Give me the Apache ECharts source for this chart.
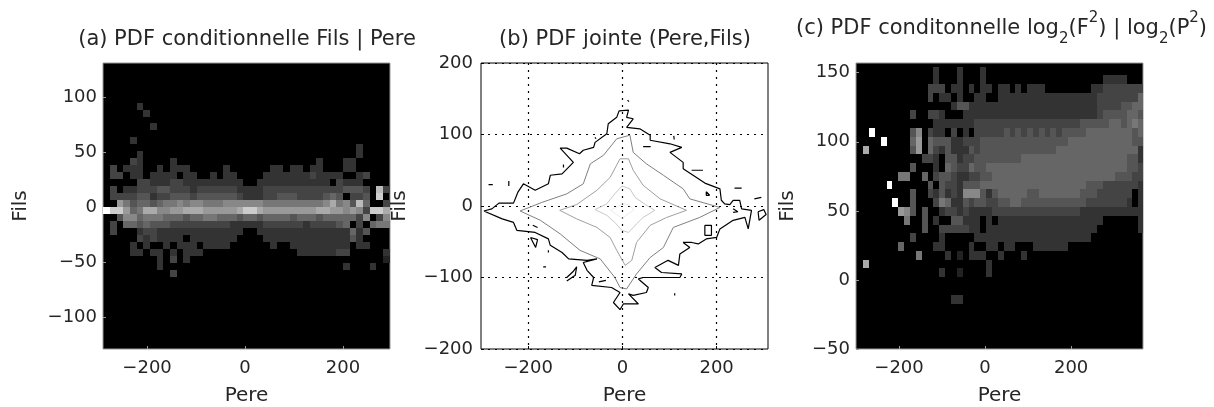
<!DOCTYPE html>
<html><head><meta charset="utf-8">
<style>html,body{margin:0;background:#fff}#c{width:1214px;height:407px;filter:blur(0.45px)}</style>
<script src="https://cdn.jsdelivr.net/npm/echarts@6/dist/echarts.min.js"></script>
</head><body><div id="c"></div>
<script>
// Grey levels 0..f per bin, top row first.
const heatA = [
"000003","0000003","","00000003","","00003",
"0000000000 0000000000 0000000000 000000003",
"0000030000 0000000000 0000000000 000000003",
"0000430000 3000000000 0000000000 0030003300",
"0403330030 3330000030 0000033033 0330003300",
"0440330333 3033003033 0000333333 3433330034",
"0000044333 4433333333 3003333333 3333043330",
"0403344455 4443444444 3333444444 4444445554 0b4",
"0444455344 5554555555 4333445554 4445650445 0c0",
"0097566567 7878877788 8888777777 7778a785b6 004",
"fcc967aa88 99aaa99999 acca999999 99aa998984 cca",
"0058867776 6656677666 5665666656 6656666648 048",
"0406656555 4444444443 3333444444 3444456040 677",
"0400034433 3333333333 3003333333 3333333635",
"0000043433 3303333333 0000333333 3333333530",
"0000303003 0333033330 0000030033 3333333033",
"0000330330 3033300000 0000000003 3333344000 003",
"0000000030 4030000000 0000000000 0000000000 002",
"0000000030 0000000000 0000000000 0000003000 3",
"0000000000 4"
];
const heatC = [
"0000000000 0003000300 0300000000",
"0000000000 0003000300 0300000000 0000000000 003333",
"0000000000 0044403303 0330330303 3300000000 334444444",
"0000000000 0040330300 3300333333 3333333333 344444446",
"0000000000 0000003553 3333333333 3333333333 344445566",
"0000000004 0044300033 3333333333 3333333333 345555665",
"0000000000 0003333333 4444444444 4444444455 555665676",
"00f0000005 8043304030 4444454545 4545455556 666666656",
"0000f00006 9065553344 4555555555 5555556666 666666655",
"0a00000005 9064353335 4555555555 5555666666 666666663",
"0000000000 0443055344 5555555566 6666666666 666666553",
"0000000005 0003065446 5566666666 6666666666 666666554",
"0000000770 0604554334 4556666666 6666666666 666655544",
"00000f0000 0050544355 5666666666 6666666665 554444443",
"0000000005 0043534388 8535666665 5666666655 544444403",
"000000f005 0004763354 5544556655 5555555554 444444303",
"0000000985 0500344343 3334444444 4444444433 333333333",
"0000000070 0503005533 3030333333 3333333333 330000003",
"0000000000 0500444443 3033333333 3333333333 300000003",
"0000000004 0000300000 3333333333 3333333333",
"0000000600 0003300003 0033033000 3333330000",
"0000000000 7000030203 3300300030",
"0a00000000 0000000000 0030000000",
"0000000000 0000300200 0030000000",
"","",
"0000000000 0000003300"
];
const binsA = {x0:-282.5, dx:13.6, y0:91.9, dy:6.36};
const binsC = {x0:-290, dx:13.6, y0:151.2, dy:6.35};

// Contours of panel (b): [Pere, Fils]
const contour1 = [[-294,-7],[-277,-4],[-262,4],[-231,4],[-222,19],[-210,31],[-185,22],[-157,31],[-153,43],[-128,45],[-104,61],[-132,81],[-118,81],[-91,73],[-83,78],[-61,82],[-58,89],[-33,101],[-30,115],[-12,124],[-7,133],[13,134],[9,124],[23,122],[9,110],[37,108],[59,99],[59,92],[101,87],[126,82],[101,75],[129,61],[129,52],[175,32],[207,24],[210,8],[217,3],[228,2],[235,8],[249,8],[253,-4],[274,-6],[267,-32],[260,-16],[235,-20],[207,-32],[200,-44],[178,-46],[161,-53],[147,-51],[129,-51],[143,-58],[122,-67],[119,-83],[97,-76],[69,-86],[83,-93],[126,-95],[122,-100],[44,-100],[34,-102],[55,-114],[51,-121],[23,-125],[13,-123],[34,-137],[2,-137],[-5,-145],[-19,-135],[-5,-121],[-23,-114],[-65,-111],[-61,-100],[-75,-90],[-83,-79],[-54,-74],[-75,-76],[-114,-74],[-128,-65],[-153,-55],[-157,-46],[-185,-37],[-224,-34],[-231,-23],[-255,-18],[-294,-7]];
const contour2 = [[-217,-7],[-171,5],[-118,17],[-83,31],[-68,59],[-40,71],[-12,94],[16,99],[23,75],[51,59],[87,43],[129,24],[143,10],[207,-2],[164,-16],[108,-30],[87,-58],[59,-72],[30,-95],[9,-116],[-5,-114],[-16,-100],[-47,-74],[-90,-62],[-132,-39],[-174,-20],[-217,-7]];
const contour3 = [[-133,-6],[-97,2],[-54,22],[-26,40],[-5,66],[13,66],[23,50],[44,29],[80,10],[136,-6],[94,-16],[59,-27],[30,-51],[20,-76],[6,-83],[-12,-62],[-26,-44],[-54,-30],[-97,-18],[-133,-6]];
const contour4 = [[-58,-5],[-33,3],[-16,17],[-1,28],[16,24],[27,12],[51,1],[69,-6],[44,-16],[30,-25],[13,-37],[-1,-34],[-16,-23],[-33,-13],[-58,-5]];
const contour5 = [[-25,-6],[-10,-1],[0,3],[12,2],[25,-5],[10,-12],[0,-17],[-12,-12],[-25,-6]];
const islands = [
[[175,-27],[189,-27],[189,-41],[175,-41],[175,-27]],
[[44,83],[60,83]],[[147,50],[171,50]],[[238,25],[253,25]],[[-284,30],[-275,30]],[[-241,35],[-241,28]],
[[11,148],[14,146]],[[-58,96],[-56,94]],[[109,98],[110,93]],[[178,20],[185,15],[178,15],[178,20]],
[[-125,58],[-125,54]],[[-190,-27],[-180,-30]],[[-195,-44],[-180,-47],[-184,-58],[-195,-44]],
[[-157,-62],[-157,-65]],[[-168,-85],[-162,-85]],[[-118,-100],[-105,-92],[-97,-85],[-100,-97],[-118,-105]],
[[111,-122],[111,-125]],[[-50,-106],[-35,-104]],[[280,10],[295,12]],[[288,-8],[300,-5],[305,-12],[290,-20],[288,-8]],
[[235,-4],[245,-8],[235,-9]]
];

const xTicks = [-200,0,200];
const yTicksA = [-100,-50,0,50,100];
const yTicksB = [-200,-100,0,100,200];
const yTicksC = [-50,0,50,100,150];

const FONT = '"DejaVu Sans", sans-serif', TXT = '#262626', FS = 18, NFS = 20;
const fmt = v => String(v).replace('-', '\u2212');
const cells = (rows, b) => {
  const out = [];
  rows.forEach((r, j) => {
    [...r.replace(/ /g,'')].forEach((ch, i) => {
      const lv = parseInt(ch, 16);
      if (lv > 0) out.push([b.x0 + i*b.dx, b.y0 - j*b.dy, lv]);
    });
  });
  return out;
};
const heatSeries = (idx, rows, b) => ({
  type:'custom', xAxisIndex:idx, yAxisIndex:idx, clip:true, silent:true,
  data: cells(rows, b),
  encode:{x:0,y:1},
  renderItem(p, api){
    const x=api.value(0), y=api.value(1), g=api.value(2)*17;
    const a=api.coord([x-b.dx/2,y+b.dy/2]), c=api.coord([x+b.dx/2,y-b.dy/2]);
    const X=Math.round(a[0]),Y=Math.round(a[1]);
    return {type:'rect', shape:{x:X,y:Y,width:Math.round(c[0])-X,height:Math.round(c[1])-Y}, style:{fill:`rgb(${g},${g},${g})`}};
  }
});
const line = (data,color,width) => ({type:'line',xAxisIndex:1,yAxisIndex:1,data,symbol:'none',silent:true,clip:true,
  lineStyle:{color,width:width||1},z:3});
const xAxis = (idx,min,max,border) => ({
  type:'value',gridIndex:idx,min,max,name:'Pere',nameLocation:'middle',nameGap:37,
  nameTextStyle:{fontFamily:FONT,fontSize:NFS,color:TXT},
  axisLine:{show:false,onZero:false},
  axisTick:{show:true,inside:true,length:3,customValues:xTicks,lineStyle:{color:border}},
  axisLabel:{customValues:xTicks,formatter:fmt,margin:10,fontFamily:FONT,fontSize:FS,color:TXT,showMinLabel:true,showMaxLabel:true},
  splitLine:{show:idx===1,lineStyle:{color:'#000',type:[2,5],width:1.2}}
});
const yAxis = (idx,min,max,ticks,gap,margin,border) => ({
  type:'value',gridIndex:idx,min,max,name:'Fils',nameLocation:'middle',nameGap:gap,nameRotate:90,
  nameTextStyle:{fontFamily:FONT,fontSize:NFS,color:TXT},
  axisLine:{show:false,onZero:false},
  axisTick:{show:true,inside:true,length:3,customValues:ticks,lineStyle:{color:border}},
  axisLabel:{customValues:ticks,formatter:fmt,margin,fontFamily:FONT,fontSize:FS,color:TXT,showMinLabel:true,showMaxLabel:true},
  splitLine:{show:idx===1,lineStyle:{color:'#000',type:[2,5],width:1.2}}
});
const TFS = 21;
const title = (text,left,top,rich) => ({text,left,top,textAlign:'center',
  textStyle:{fontFamily:FONT,fontSize:TFS,fontWeight:'normal',color:TXT,rich}});
const gridBox = (left,bg,border) => ({left,top:63,width:287,height:286,show:true,backgroundColor:bg,borderColor:border,borderWidth:1,outerBoundsMode:'none'});
const chart = echarts.init(document.getElementById('c'),null,{renderer:'canvas'});
chart.setOption({
  animation:false,backgroundColor:'#fff',
  title:[
    title('(a) PDF conditionnelle Fils | Pere',242,24),
    title('(b) PDF jointe (Pere,Fils)',620,24),
    title('{b|(c) PDF conditonnelle log}{s|2}{b|(F}{u|2}{b|) | log}{s|2}{b|(P}{u|2}{b|)}',996.5,6,{
      b:{fontFamily:FONT,fontSize:TFS,color:TXT,lineHeight:36,verticalAlign:'middle'},
      s:{fontFamily:FONT,fontSize:15,color:TXT,lineHeight:14,verticalAlign:'bottom'},
      u:{fontFamily:FONT,fontSize:15,color:TXT,lineHeight:14,verticalAlign:'top'}
    })
  ],
  grid:[gridBox(103,'#000','#999'),gridBox(481,'#fff','#000'),gridBox(856,'#000','#999')],
  xAxis:[xAxis(0,-290,296,'#999'),xAxis(1,-300,309,'#000'),xAxis(2,-300,367,'#999')],
  yAxis:[yAxis(0,-129,131,yTicksA,72,6,'#999'),yAxis(1,-200,200,yTicksB,71,8,'#000'),yAxis(2,-50,157,yTicksC,58,6,'#999')],
  series:[
    heatSeries(0,heatA,binsA),
    line(contour1,'#000',1.2),line(contour2,'#808080'),line(contour3,'#a0a0a0'),line(contour4,'#c8c8c8'),line(contour5,'#ececec'),
    ...islands.map(d=>line(d,'#000',1.2)),
    heatSeries(2,heatC,binsC)
  ]
});
</script></body></html>
